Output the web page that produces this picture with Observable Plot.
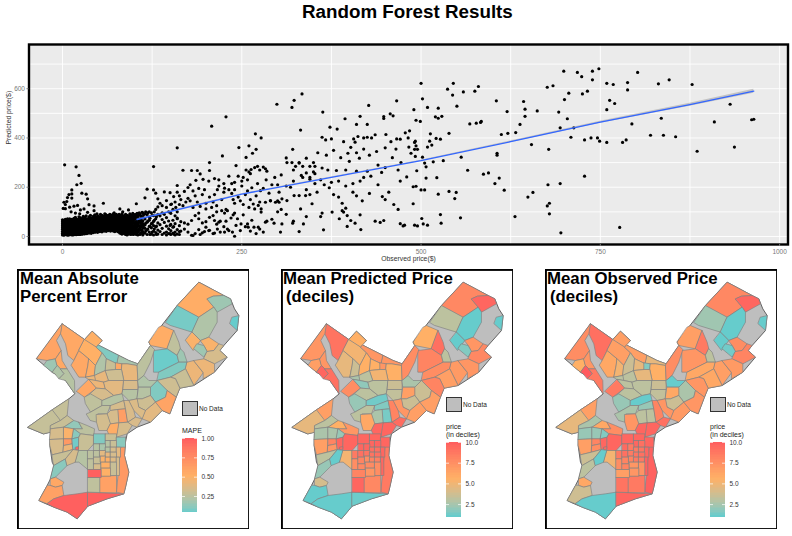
<!DOCTYPE html>
<html>
<head>
<meta charset="utf-8">
<script src="https://cdn.jsdelivr.net/npm/d3@7"></script>
<script src="https://cdn.jsdelivr.net/npm/@observablehq/plot@0.6"></script>
<style>
html,body{margin:0;padding:0;background:#fff;font-family:"Liberation Sans",Arial,sans-serif;}
#page{position:relative;width:792px;height:536px;overflow:hidden;}
#page svg{position:absolute;background:transparent;max-width:none;height:auto;}
.t{position:absolute;white-space:pre;color:#000;}
.nd{position:absolute;box-sizing:border-box;background:#bebebe;border:1px solid #333;}
</style>
</head>
<body>
<div id="page"></div>
<script>
// ---------- Scatter data (observed $, predicted $) ----------
const denseColumns = [
 [0,[6,12,20,28,36,44,52,60,68]],[2,[5,14,24,33,42,50,58,66]],[4,[8,16,25,35,46,54,62,70]],[6,[6,13,22,31,40,49,57,66]],
 [8,[5,15,26,34,43,52,60,68]],[10,[7,14,23,32,41,50,59,72]],[13,[6,16,25,35,44,53,62,70]],[16,[8,15,24,33,43,52,61,74]],
 [19,[7,17,26,36,45,54,63,72]],[22,[9,16,25,34,44,53,62,70]],[25,[8,18,28,37,46,55,64,76]],[28,[10,17,26,36,45,55,64,74]],
 [31,[11,20,29,38,47,57,66,78]],[34,[12,19,28,37,47,56,65,72]],[37,[14,23,32,41,50,59,68,80]],[40,[13,22,31,40,50,59,69,76]],
 [43,[16,25,34,43,52,61,70,82]],[46,[18,27,36,45,54,63,72,80]],[49,[17,26,35,44,53,62,71,84]],[52,[20,29,38,47,56,65,74,80]],
 [55,[19,28,37,46,55,64,73,86]],[58,[22,31,40,49,58,67,76,82]],[61,[21,30,39,48,57,66,75,84]],[64,[24,33,42,51,60,69,78,86]],
 [67,[22,31,40,49,58,67,76,88]],[70,[26,35,44,53,62,71,80,84]],[73,[20,30,40,50,60,70,80,88]],[76,[24,34,44,54,64,74,84]],
 [79,[18,28,38,48,58,68,78,90]],[82,[12,24,36,46,56,66,76,86]],[85,[22,32,42,54,64,74,84]],[88,[8,18,30,40,50,60,72,90]],
 [91,[14,26,38,48,58,68,80]],[94,[20,30,44,54,66,78,92]],[97,[10,24,36,50,62,74,86]],[100,[16,30,42,56,70,82]],
 [103,[8,22,34,48,60,76,90,133]],[106,[18,30,46,58,72,86]],[109,[12,26,40,54,68,84]],[112,[6,20,36,50,64,80,96]],
 [115,[14,33,47,71,92,157]],[118,[8,27,58,88,192]],[121,[18,41,66,79,100]],[124,[10,35,52,96]],
 [127,[6,22,44,61,85,189,284]],[130,[16,39,72,110,176]],[133,[10,26,55,90,120,153]],[136,[20,48,84,135]],
 [139,[8,33,69,96,125]],[142,[14,57,90,181]],[145,[6,18,42,77,146,118]],[148,[12,31,63,100]],
 [151,[8,24,49,94,130]],[154,[14,38,66,110]],[157,[6,18,52,84,140]],[160,[10,28,75,100,180,360,207]],[163,[8,20,44,130,165]]
];
const denseInfill = [
 [1,[9,17,30,39,47,55,63]],[3,[10,19,29,38,46,54,62]],[5,[11,21,30,38,44,51,60]],[7,[9,18,27,36,45,53,62,72]],
 [9,[10,20,30,38,47,56,64]],[11,[11,19,28,37,46,55,64]],[12,[9,20,30,39,48,57,66]],[14,[11,20,29,39,48,57,67]],
 [15,[6,18,28,37,47,56,65]],[17,[11,21,30,39,48,57,67]],[18,[9,19,29,38,47,58,68,78]],[20,[12,21,31,40,49,58,67]],
 [21,[8,20,30,39,49,58,66]],[23,[12,22,30,39,48,58,66,80]],[24,[9,20,31,40,50,59,68]],[26,[13,23,32,41,50,59,69]],
 [27,[11,21,31,41,50,60,70]],[29,[14,22,31,41,50,60,70,82]],[30,[12,23,33,42,52,61,70]],[32,[15,24,33,43,52,62,71]],
 [33,[14,24,33,42,52,61,70,84]],[35,[16,24,33,42,52,61,70]],[36,[18,27,36,45,54,63,72]],[38,[18,27,36,46,55,64,74]],
 [39,[17,26,36,45,54,64,73,86]],[41,[18,27,36,45,55,64,73]],[42,[20,29,38,47,56,66,75]],[44,[21,30,39,48,57,66,76]],
 [45,[19,29,38,48,57,67,77,88]],[47,[23,32,40,50,59,68,77]],[48,[22,31,41,49,59,68,78]],[50,[24,32,41,50,59,68,78]],
 [51,[23,32,42,51,60,69,79]],[53,[25,34,43,52,61,70,80,90]],[54,[24,33,42,51,60,70,79]],[56,[26,34,43,52,62,71,80]],
 [57,[25,35,44,53,62,71,82]],[59,[27,36,45,54,63,72,80,92]],[60,[26,35,44,53,62,72,82]],[62,[27,36,45,54,63,72,81]],
 [63,[29,38,47,56,65,74,84]],[65,[28,37,46,56,65,74,83]],[66,[30,39,48,57,66,75,90]],[68,[27,36,45,54,63,72,82]],
 [69,[31,40,49,58,67,76,86]],[71,[22,32,41,50,59,68,78,92]],[72,[30,39,48,57,66,75,84]],[74,[25,35,45,55,65,75,85]],
 [75,[29,39,49,59,69,79,90]],[77,[20,30,40,50,60,70,80]],[78,[24,34,44,54,64,74,86]],[80,[14,24,34,44,53,63,73,84]],
 [81,[18,30,42,52,62,71,82]],[83,[10,20,30,41,51,61,71,92]],[84,[16,27,38,49,60,70,80]],[86,[12,25,37,48,58,68,80]],
 [87,[18,28,38,47,57,66,78]],[89,[12,24,35,45,55,66,76]],[90,[6,20,32,44,54,64,75,86]],[92,[10,22,34,44,53,63,74,84]],
 [93,[16,28,40,50,60,72,82]],[95,[8,24,36,48,60,72,84]],[96,[14,26,42,56,68,80]],[98,[18,32,44,56,68,80,94]],
 [99,[8,24,38,64,76,90]],[101,[12,38,50,78,88]],[102,[18,30,56,70,84]],[104,[12,40,68,94]],
 [105,[6,24,52,78]],[107,[26,42,66,96]],[108,[8,36,62,90]],[110,[16,46,74]],
 [111,[28,58,98]],[113,[14,44,88]],[116,[22,54,100]],[119,[30,62,96]],
 [122,[8,42,74]],[125,[18,54,86]],[128,[30,66,100]],[131,[8,42,80]]
];
const upperOutliers = [[3,291],[19,283],[23,248],[26,216],[20,210],[13,189],[13,173],[9,170],[27,176],[33,172],[35,153],[13,156],[7,158],[2,139],[6,142],[4,130],[37,129],[44,124],[57,135],[44,105],[1,114],[4,113],[16,123],[21,126],[10,119],[25,108],[30,112],[12,100],[18,95],[24,92],[35,98],[48,92],[60,90],[72,96],[84,100],[92,108],[80,112]];
const midUpper = [[168,269],[180,268],[188,268],[192,254],[205,300],[205,268],[208,448],[228,486],[223,327],[242,288],[246,361],[256,321],[260,368],[269,417],[277,400],[265,338],[270,354],[175,199],[170,183],[150,178],[155,162],[165,150],[175,155],[182,185],[190,195],[198,190],[195,170],[185,165],[178,145],[188,140],[200,135],[210,140],[215,125],[222,150],[205,160],[212,170],[218,205],[225,215],[212,235],[218,230],[232,245],[236,215],[240,220],[250,205],[258,185],[255,170],[245,160],[236,175],[232,190],[225,180],[240,135],[230,105],[226,95],[252,130],[260,118],[268,112],[275,140],[290,145],[300,145],[262,150],[270,165],[280,195],[292,210],[300,210],[305,250],[312,205],[318,200],[322,225],[335,240],[333,248],[340,258],[350,262],[345,232],[325,285],[330,298],[322,270],[335,285],[313,300],[320,300],[345,285],[352,285],[245,245],[252,240],[258,230],[262,255],[256,270],[263,272],[268,280],[272,285],[275,270],[280,282],[283,275],[285,265],[260,262],[250,225],[240,190],[172,140],[168,125],[182,118],[192,122],[200,112],[208,118],[216,190],[226,196],[238,150],[248,145],[264,198],[272,215],[284,230],[296,240],[302,180],[288,176],[276,186],[266,132],[178,210],[186,228],[196,232],[204,225],[152,132],[158,118]];
const midLower = [[150,12],[155,10],[165,22],[170,30],[175,18],[180,5],[185,12],[190,28],[195,15],[200,38],[205,25],[210,12],[215,50],[220,62],[225,40],[230,30],[235,75],[240,95],[238,88],[200,60],[195,55],[190,72],[180,65],[175,50],[170,55],[165,60],[160,72],[155,40],[150,45],[205,78],[210,85],[185,85],[190,95],[215,100],[222,105],[228,110],[212,65],[218,58],[242,45],[255,40],[262,22],[270,12],[275,30],[285,62],[292,70],[300,100],[305,110],[312,90],[204,24],[212,14],[220,18],[226,18],[232,24],[237,18],[240,1],[248,24],[249,51],[258,51],[259,38],[267,38],[273,38],[280,18],[283,58],[295,54],[306,51],[304,18],[321,54],[322,62],[330,20],[336,51],[340,81],[182,4],[192,8],[198,20],[216,30],[228,62],[244,72],[252,88],[264,66],[277,99],[277,112],[273,126],[283,139],[290,146],[297,139],[302,139],[306,153],[313,146],[323,166],[330,166],[339,166],[332,112],[348,133]];
const centerRight = [[299,537],[320,524],[323,553],[334,579],[332,432],[321,354],[312,319],[363,505],[394,478],[373,444],[383,436],[410,455],[415,488],[425,455],[427,532],[466,551],[448,487],[448,479],[457,498],[461,490],[436,413],[451,414],[362,403],[367,392],[375,396],[412,406],[406,396],[420,400],[425,403],[431,400],[392,385],[408,383],[466,396],[471,395],[340,190],[345,170],[352,215],[360,230],[365,210],[372,198],[378,170],[385,160],[390,135],[395,115],[405,180],[410,165],[418,145],[428,175],[440,210],[446,162],[450,150],[455,180],[462,130],[468,110],[471,225],[425,265],[410,265],[395,270],[382,268],[370,270],[362,278],[352,255],[345,240],[400,305],[410,340],[420,355],[440,290],[450,280],[460,320],[445,260],[430,245],[420,240],[415,225],[405,215],[395,205],[385,225],[375,220],[355,180],[468,270],[472,300],[465,355],[458,385],[471,52],[436,62],[443,57],[448,65],[416,28],[364,27],[397,41],[402,65],[408,54],[392,99],[390,105],[376,99],[415,88],[397,85],[386,72],[362,95],[360,81],[350,300],[356,340],[368,330],[378,350],[388,320],[398,338],[402,362],[414,318],[428,330],[438,345],[450,360],[340,318],[330,300]];
const farRight = [[699,671],[718,666],[724,649],[739,671],[748,681],[739,636],[802,666],[759,622],[768,617],[788,625],[788,595],[831,620],[846,636],[878,617],[676,606],[684,612],[706,582],[700,556],[725,579],[732,590],[763,553],[770,540],[759,515],[692,505],[704,478],[694,441],[713,441],[709,403],[728,392],[737,400],[746,400],[749,387],[759,382],[781,382],[786,392],[794,457],[820,411],[838,411],[855,405],[835,480],[909,465],[931,537],[961,474],[964,476],[937,363],[885,346],[678,354],[728,245],[694,215],[677,210],[649,160],[656,179],[676,124],[679,135],[679,92],[695,15],[777,37],[631,81],[616,188],[609,237],[603,215],[594,258],[587,253],[565,269],[556,322],[606,338],[606,330],[654,373],[632,422],[621,419],[612,414],[638,455],[645,488],[645,517],[643,548],[662,510],[620,507],[605,551],[583,463],[584,467],[577,460],[568,457],[580,609],[575,590],[559,587],[545,622],[544,574],[537,598],[550,529],[500,622],[502,559],[490,515],[509,524],[524,521],[493,472],[499,467],[520,486],[524,480],[529,488],[478,421],[484,429],[482,400],[513,417],[539,419],[521,398],[527,395],[512,387],[515,371],[509,363],[492,387],[491,382],[493,368],[491,354],[495,354],[483,363],[486,338],[492,325],[502,322],[505,298],[507,283],[517,303],[531,308],[494,267],[480,242],[507,237],[522,239],[489,202],[493,204],[500,189],[505,189],[524,172],[539,183],[549,179],[547,154],[489,133],[527,89],[555,76],[501,73],[528,54],[503,51],[509,46],[491,46],[495,43],[475,43],[477,46]];

const scatterPoints = [
  ...[...denseColumns, ...denseInfill].flatMap(([x, ys]) => ys.map(y => [x, y])),
  ...upperOutliers, ...midUpper, ...midLower, ...centerRight, ...farRight
];
const fitX = [104,250,375,500,625,750,875,964];
const fitY = [69,172,240,308,385,464,535,590];
const fitSe = [3,2,2,2,3,4,6,8];
const xTicks = [0,250,500,750,1000], xMinor = [125,375,625,875];
const yTicks = [0,200,400,600], yMinor = [100,300,500,700];

// ---------- Map data: one ring (map units) with MAPE, predicted decile, observed decile ----------
const cityOutline = [[52,485],[125,433],[175,400],[193,385],[165,345],[125,320],[78,280],[155,175],[222,222],[245,197],[275,225],[262,238],[355,285],[382,295],[420,240],[415,230],[500,120],[565,50],[640,90],[660,100],[672,130],[685,150],[680,195],[640,240],[628,255],[650,275],[612,320],[550,360],[508,368],[497,395],[478,445],[455,435],[420,470],[380,485],[350,505],[345,530],[342,570],[355,620],[345,665],[340,685],[290,700],[232,722],[200,760],[170,740],[130,725],[95,710],[85,705],[110,660],[120,640],[130,600],[125,590],[118,540],[120,500],[100,505]];
const tractTable = [
 [[[155,175],[222,222],[205,255],[190,285],[172,270],[165,235],[150,205]],.55,8.8,9],
 [[[155,175],[150,205],[138,225],[152,255],[135,280],[110,285],[78,280]],.58,7,7.5],
 [[[110,285],[135,280],[140,300],[125,320],[100,300]],.15,6.5,5.5],
 [[[135,280],[152,255],[155,285],[170,310],[150,310],[140,300]],.55,7,7],
 [[[125,320],[140,300],[150,310],[160,325],[145,340],[133,325]],.2,9.5,10],
 [[[150,310],[170,310],[192,345],[193,385],[165,345],[145,340],[160,325]],.22,9,8.5],
 [[[190,285],[205,255],[235,280],[232,300],[225,335],[205,335],[182,300]],.55,4.5,6],
 [[[222,222],[245,197],[275,225],[258,245]],.5,5.5,6.5],
 [[[222,222],[258,245],[275,262],[255,300],[235,280],[205,255]],.5,5,6.5],
 [[[258,245],[262,238],[325,270],[320,295],[288,280],[275,262]],.08,7,6.5],
 [[[325,270],[355,285],[382,295],[380,300],[350,295],[320,295]],.18,7,4.5],
 [[[235,280],[255,300],[252,330],[225,335],[232,300]],.52,3.5,5],
 [[[255,300],[275,262],[288,280],[285,315],[262,325],[252,330]],.2,5.5,3.5],
 [[[288,280],[320,295],[316,312],[285,315]],.28,5.5,4.5],
 [[[316,292],[335,295],[333,312],[316,312]],.55,7,1.5],
 [[[335,295],[350,295],[380,300],[382,345],[340,345],[333,312]],.4,5.5,5.5],
 [[[252,330],[262,325],[285,315],[295,345],[280,350],[255,345]],.4,3,3],
 [[[285,315],[316,312],[333,312],[340,345],[295,345]],.3,5,4.5],
 [[[235,342],[258,368],[222,395],[198,378]],.55,7.5,8.5],
 [[[225,335],[252,330],[255,345],[235,342]],.42,2.5,3],
 [[[255,345],[280,350],[285,370],[258,368],[235,342]],.42,1.8,3],
 [[[258,368],[285,370],[310,390],[275,405],[250,395],[240,385]],.33,3,3],
 [[[280,350],[295,345],[340,345],[335,385],[310,390],[285,370]],.38,3,3],
 [[[340,345],[382,345],[382,372],[338,372]],.34,3.5,3.5],
 [[[338,372],[382,372],[380,400],[355,405],[335,385]],.22,3.2,3.2],
 [[[222,395],[240,385],[275,405],[275,420],[240,440],[225,415]],.25,2,2],
 [[[275,405],[310,390],[335,385],[340,405],[305,420],[275,420]],.22,1.2,1],
 [[[125,433],[175,400],[170,450],[150,465]],.27,6.5,6.5],
 [[[52,485],[125,433],[150,465],[120,480],[120,500],[100,505]],.27,4.5,4.5],
 [[[500,120],[565,50],[640,90],[608,92],[590,100],[610,125],[565,155]],.52,7.8,7.8],
 [[[590,100],[608,92],[640,90],[660,100],[665,115],[620,140],[610,125]],.15,9.5,9.5],
 [[[665,155],[685,150],[680,195],[658,175]],.03,1,1],
 [[[465,170],[500,120],[565,155],[545,200],[480,180]],.06,3,2.2],
 [[[565,155],[610,125],[620,140],[620,170],[595,215],[570,225],[545,200]],.2,1,1],
 [[[545,200],[570,225],[548,255],[525,225]],.48,1,1],
 [[[570,225],[595,215],[625,235],[610,255],[590,258],[580,240]],.48,7,7.5],
 [[[560,235],[580,240],[590,258],[580,275],[550,250]],.15,1.5,1.2],
 [[[590,258],[610,255],[625,235],[640,240],[628,255],[650,275],[612,295],[580,280]],.33,7.8,8],
 [[[445,185],[455,180],[490,195],[470,250],[420,240],[415,230]],.52,5.5,6.5],
 [[[490,195],[505,230],[510,250],[500,270],[470,250]],.25,9,8.5],
 [[[430,255],[470,250],[500,270],[505,290],[445,320],[430,320]],.04,8,7],
 [[[510,250],[520,260],[530,290],[505,290],[500,270]],.15,3,3],
 [[[445,320],[505,290],[530,290],[525,310],[480,335],[440,345]],.08,7.5,6],
 [[[382,295],[420,240],[432,252],[420,290],[400,330],[382,345],[380,300]],.24,7.5,7.5],
 [[[530,290],[550,285],[578,322],[550,360],[525,310]],.42,6.8,6.5],
 [[[550,285],[580,280],[612,295],[612,320],[578,340],[578,322]],.42,7,6.8],
 [[[480,335],[525,310],[550,360],[508,368],[495,340]],.28,6.5,6],
 [[[440,345],[480,335],[495,340],[508,368],[497,395],[470,375]],.3,8,7],
 [[[420,365],[440,345],[470,375],[465,395],[435,410],[420,390]],.08,3.5,2.5],
 [[[382,345],[400,330],[415,345],[440,345],[420,365],[385,365]],.2,2.5,1],
 [[[385,365],[420,365],[420,390],[395,400],[380,400]],.22,6.5,6],
 [[[435,410],[465,395],[470,375],[497,395],[478,445],[455,435]],.58,6.5,7],
 [[[380,400],[395,400],[420,390],[435,410],[405,435],[385,425]],.3,3.5,3.5],
 [[[405,435],[435,410],[455,435],[420,470],[395,460]],.38,6.5,6.8],
 [[[355,405],[380,400],[385,425],[405,435],[395,460],[370,435]],.35,7,7],
 [[[228,445],[240,440],[275,420],[300,420],[290,445],[262,445],[258,470],[240,465]],.25,3,2.5],
 [[[300,420],[340,405],[345,430],[322,432],[300,435]],.33,1.5,2],
 [[[322,432],[345,430],[352,470],[325,472]],.62,1.3,3],
 [[[345,430],[340,405],[355,405],[370,435],[375,455],[352,470]],.34,8,8],
 [[[352,470],[375,455],[395,460],[380,485],[365,480]],.34,9.2,9],
 [[[290,445],[300,435],[322,432],[325,472],[300,475]],.33,2.5,3],
 [[[258,447],[290,445],[300,475],[290,495],[265,495],[258,470]],.32,6,7],
 [[[325,472],[352,470],[365,480],[350,505],[318,515]],.33,9.5,9.5],
 [[[300,475],[325,472],[318,515],[300,520],[290,495]],.52,9.5,9.5],
 [[[120,480],[150,465],[170,450],[190,465],[160,485],[120,490]],.28,3,2.5],
 [[[160,485],[190,465],[205,470],[215,490],[190,490]],.12,5.5,6],
 [[[205,470],[230,480],[252,490],[250,510],[210,505],[190,490],[215,490]],.24,7,7.5],
 [[[120,490],[160,485],[160,520],[118,522]],.33,2.5,2],
 [[[118,522],[160,520],[158,560],[125,568],[118,540]],.33,6.5,6.5],
 [[[160,485],[190,490],[185,520],[160,520]],.48,2.5,2],
 [[[190,490],[210,505],[205,515],[185,520]],.1,2,1.5],
 [[[160,520],[185,520],[185,535],[160,540]],.65,8,8],
 [[[160,540],[185,535],[188,552],[158,560]],.42,7,7.5],
 [[[185,520],[205,515],[205,548],[188,552]],.05,9.5,9.5],
 [[[205,515],[210,505],[250,510],[250,535],[232,555],[205,555]],.28,9.5,9.5],
 [[[195,545],[204,543],[204,552],[196,554]],.95,9.5,9.5],
 [[[125,568],[158,560],[188,552],[165,580],[130,600]],.28,3,3.5],
 [[[130,600],[165,580],[170,600],[135,635],[120,640]],.1,2,3],
 [[[165,580],[188,552],[205,555],[195,590],[170,600]],.33,1,1],
 [[[205,555],[232,555],[232,612],[205,590],[195,590]],.22,5,5],
 [[[120,640],[135,635],[160,650],[155,660],[135,665],[120,660]],.55,3.8,6],
 [[[120,660],[135,665],[155,660],[160,690],[130,700],[110,715],[85,705],[110,660]],.6,1,3.6],
 [[[130,700],[160,690],[200,685],[232,680],[232,722],[200,760],[170,740],[130,725],[110,715]],.97,1,1],
 [[[232,680],[340,685],[290,700],[232,722]],.97,1.1,9.5],
 [[[345,515],[345,530],[342,570],[355,620],[345,665],[340,685],[318,680],[325,600],[330,550]],.65,8.5,9.7],
 [[[268,632],[318,630],[318,682],[268,681]],.6,7.8,8.5],
 [[[232,636],[268,636],[268,681],[232,680]],.25,9.5,8.8]
];
// South Philadelphia / Center City blocks: left, top, right, bottom, MAPE, predicted, observed
const blockTable = [
 [250,505,285,535,.08,9.5,9.5],[285,505,318,525,.28,9.5,9.5],[318,515,345,545,.1,9.5,9.5],[285,525,300,545,.22,9.5,9.5],
 [300,525,318,545,.28,9.6,9],[250,535,268,555,.22,9.5,9.3],[268,535,285,555,.18,9.5,8.5],[285,545,300,560,.22,9,8.5],
 [300,545,318,560,.33,9,8.7],[318,545,330,575,.38,9.5,9.5],[232,555,250,580,.24,8.5,8.5],[250,555,268,575,.24,9,9],
 [268,555,285,572,.38,8.8,8.5],[285,560,300,575,.4,8.8,8.8],[300,560,318,575,.33,9,9],[232,580,250,612,.25,7.5,7.5],
 [250,575,270,595,.28,8,8],[270,572,285,590,.48,7.5,8],[285,575,300,590,.5,8,8.5],[300,575,318,590,.36,8.2,8.5],
 [318,575,327,630,.33,9.5,9.7],[250,595,272,612,.33,7.8,8],[272,590,300,608,.5,7.6,7],[300,590,318,630,.28,7.5,7.2],
 [272,608,300,632,.5,7,7],[232,612,272,636,.97,8,6.5]
];

// ---------- Legend values ----------
const mapeBreaks = [0.25,0.5,0.75,1.0];
const priceBreaks = [2.5,5.0,7.5,10.0];
const colorStops = ["#66cccc","#ffb066","#ff5a5f"];

const page = document.getElementById("page");
function put(el, left, top) { el.style.left = left + "px"; el.style.top = top + "px"; page.appendChild(el); return el; }
function label(text, left, top, size, weight, color, lh) {
  const d = document.createElement("div");
  d.className = "t"; d.textContent = text;
  d.style.fontSize = size + "px"; d.style.fontWeight = weight || "normal";
  d.style.color = color || "#000"; d.style.lineHeight = (lh || size * 1.15) + "px";
  return put(d, left, top);
}

label("Random Forest Results", 302, 1, 18.8, "bold");

// ---------- Scatter ----------
const axisFont = {fontSize: 6.5, fontFamily: "Liberation Sans"};
put(Plot.plot({
  width: 792, height: 236, marginLeft: 28.5, marginRight: 4.5, marginTop: 14, marginBottom: 22,
  x: {domain: [-46.7, 1011.7]}, y: {domain: [-32.5, 779.5]},
  style: {fontFamily: "Liberation Sans"},
  marks: [
    Plot.frame({fill: "#ebebeb"}),
    Plot.ruleX([...xTicks, ...xMinor], {stroke: "#fff", strokeWidth: 0.9}),
    Plot.ruleY([...yTicks, ...yMinor], {stroke: "#fff", strokeWidth: 0.9}),
    Plot.dot(scatterPoints, {x: d => d[0], y: d => d[1], r: 1.6, fill: "#000"}),
    Plot.areaY(fitX, {x: d => d, y1: (d, i) => fitY[i] - fitSe[i], y2: (d, i) => fitY[i] + fitSe[i], fill: "#999", fillOpacity: 0.5}),
    Plot.line(fitX, {x: d => d, y: (d, i) => fitY[i], stroke: "#3366ff", strokeWidth: 1.3}),
    Plot.frame({stroke: "#000", strokeWidth: 2.4}),
    Plot.axisX({ticks: xTicks, tickFormat: d3.format("d"), tickSize: 2, tickPadding: 3, label: null, color: "#777", ...axisFont}),
    Plot.axisY({ticks: yTicks, tickSize: 2, tickPadding: 2, label: null, color: "#777", ...axisFont}),
    Plot.text(["Observed price($)"], {frameAnchor: "bottom", dy: 16, fontSize: 6.8, fill: "#333"}),
    Plot.text(["Predicted price($)"], {frameAnchor: "left", dx: -20, rotate: -90, fontSize: 6.8, fill: "#333"})
  ]
}), 0, 30);

// ---------- Maps ----------
const closeRing = r => [...r, r[0]];
const polygon = r => ({type: "Polygon", coordinates: [closeRing(r)]});
const tracts = [
  ...tractTable.map(([ring, mape, pred, obs]) => ({ring, mape, pred, obs})),
  ...blockTable.map(([l, t, r, b, mape, pred, obs]) => ({ring: [[l,t],[r,t],[r,b],[l,b]], mape, pred, obs}))
];
function mapPanel(o) {
  const colorOptions = {type: "linear", domain: o.domain, range: colorStops, interpolate: "lab"};
  const w = 232, h = 260;
  const projection = d3.geoIdentity().scale(1 / 3).translate([o.mapX, o.mapY]);
  put(Plot.plot({
    width: w, height: h, margin: 0, projection, color: colorOptions,
    marks: [
      Plot.geo([polygon(cityOutline)], {fill: "#bebebe", stroke: "#555", strokeWidth: 0.9}),
      Plot.geo(tracts, {geometry: d => polygon(d.ring), fill: d => d[o.key], stroke: "#808080", strokeWidth: 0.65}),
      Plot.frame({stroke: "#000", strokeWidth: 2.8})
    ]
  }), o.left, 269);
  o.title.forEach(([text, x, y]) => label(text, x, y, 16.8, "bold", "#000", 18));
  // No Data key
  const box = document.createElement("div");
  box.className = "nd"; box.style.width = "15.5px"; box.style.height = "15px";
  put(box, o.noData[0], o.noData[1]);
  label("No Data", o.noData[0] + 17, o.noData[1] + 4, 6.5, "normal", "#222", 8);
  // Colour bar
  o.legendTitle.forEach((text, i) => label(text, o.bar[0], o.bar[1] - (o.legendTitle.length - i) * 8 - 3, 7, "normal", "#222", 8));
  const values = d3.ticks(o.domain[0], o.domain[2], 60);
  const step = values[1] - values[0];
  put(Plot.plot({
    width: 36, height: o.barHeight + 4, marginLeft: 0, marginRight: 21, marginTop: 2, marginBottom: 2,
    x: {domain: [0, 1], axis: null},
    y: {domain: [o.domain[0], o.domain[2]]},
    color: colorOptions,
    marks: [
      Plot.rect(values, {x1: 0, x2: 1, y1: d => d, y2: d => Math.min(d + step * 2, o.domain[2]), fill: d => d, shapeRendering: "crispEdges"}),
      Plot.ruleY(o.breaks, {x1: 0, x2: 0.2, stroke: "#fff", strokeWidth: 0.7}),
      Plot.ruleY(o.breaks, {x1: 0.8, x2: 1, stroke: "#fff", strokeWidth: 0.7}),
      Plot.axisY({anchor: "right", ticks: o.breaks, tickFormat: o.fmt, tickSize: 0, tickPadding: 4, label: null, fontSize: 6.5, fontFamily: "Liberation Sans", color: "#333"})
    ]
  }), o.bar[0], o.bar[1] - 2);
}
mapPanel({key: "mape", domain: [0.03, 0.5, 1], breaks: mapeBreaks, fmt: d3.format(".2f"), left: 17, mapX: -7, mapY: -4,
  title: [["Mean Absolute", 20, 270], ["Percent Error", 20, 288]], noData: [182, 401], legendTitle: ["MAPE"], bar: [182, 438], barHeight: 75});
mapPanel({key: "pred", domain: [1, 5.5, 10], breaks: priceBreaks, fmt: d3.format(".1f"), left: 281, mapX: -6.7, mapY: -4,
  title: [["Mean Predicted Price", 283, 270], ["(deciles)", 286, 288]], noData: [446, 397], legendTitle: ["price", "(in deciles)"], bar: [446, 442], barHeight: 74.5});
mapPanel({key: "obs", domain: [1, 5.5, 10], breaks: priceBreaks, fmt: d3.format(".1f"), left: 545, mapX: -6.7, mapY: -4,
  title: [["Mean Observed Price", 547, 270], ["(deciles)", 550, 288]], noData: [710, 397], legendTitle: ["price", "(in deciles)"], bar: [710, 442], barHeight: 74.5});
</script>
</body>
</html>
